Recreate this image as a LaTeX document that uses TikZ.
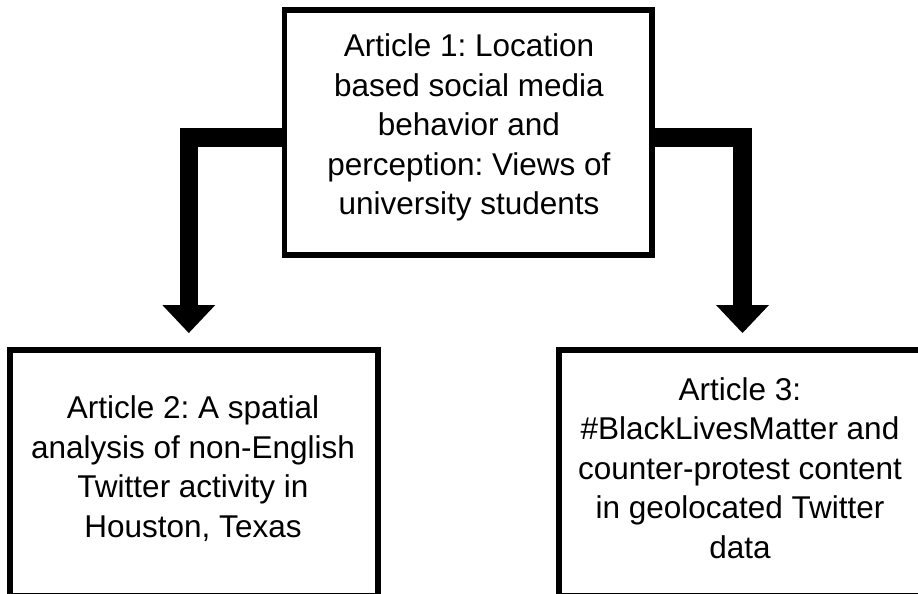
\documentclass[tikz,border=0pt]{standalone}
\usepackage{fontspec}
\setmainfont{Liberation Sans}
\usetikzlibrary{arrows.meta}
\frenchspacing
\begin{document}
\begin{tikzpicture}[x=1pt,y=-1pt,
  box/.style={draw=black, line width=5.5pt, rectangle, inner sep=0pt},
  txt/.style={align=center, font=\fontsize{31.5}{39.5}\selectfont, inner sep=0pt},
  conn/.style={line width=18.5pt, line join=miter, -{Triangle[length=28pt,width=53pt,line width=0pt]}}]
\useasboundingbox (0,0) rectangle (918,594);
\clip (0,0) rectangle (918,594);
\node[box, minimum width=367.5pt, minimum height=245pt] (a1) at (468.25,132.5) {};
\node[txt] (t1) at (469,127.7) {Article 1: Location\\based social media\\behavior and\\perception: Views of\\university students};
\node[box, minimum width=368pt, minimum height=246pt] (a2) at (194,473) {};
\node[txt] (t2) at (193,468.7) {Article 2: A spatial\\analysis of non-English\\Twitter activity in\\Houston, Texas};
\node[box, minimum width=362pt, minimum height=246pt] (a3) at (740,473) {};
\node[txt] (t3) at (740,468) {Article 3:\\\#BlackLivesMatter and\\counter-protest content\\in geolocated Twitter\\data};
\coordinate (tipL) at (188.8,333);
\coordinate (tipR) at (742.5,333);
\draw[conn] ([yshift=-5pt]a1.west) -| (tipL);
\draw[conn] ([yshift=-5pt]a1.east) -| (tipR);
\end{tikzpicture}
\end{document}
